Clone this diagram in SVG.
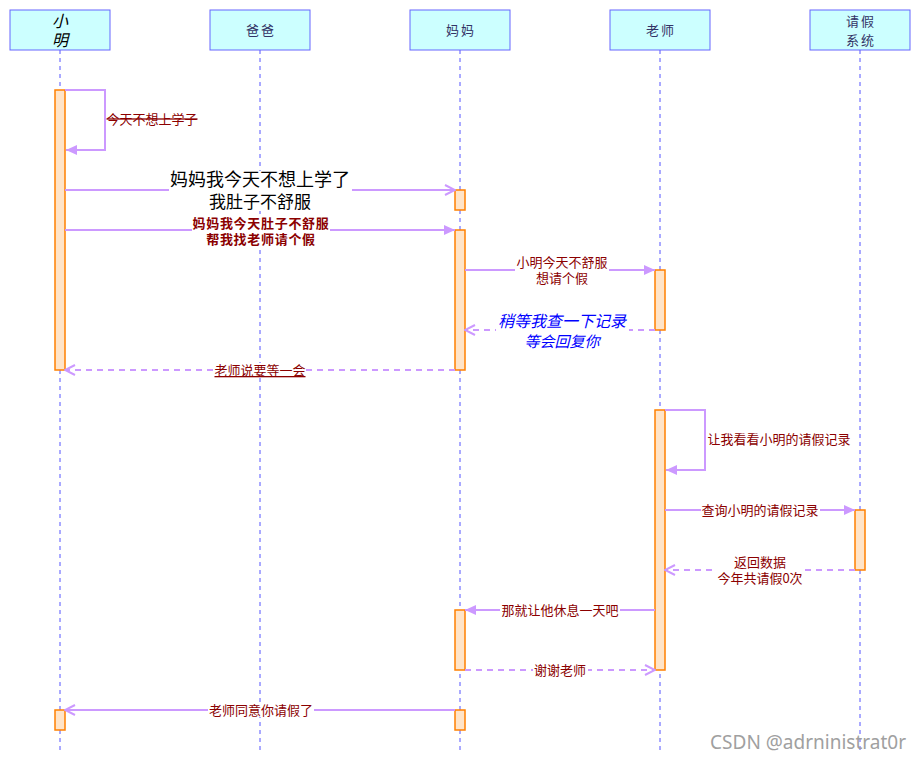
<svg xmlns="http://www.w3.org/2000/svg" width="921" height="761" viewBox="0 0 921 761">
<defs>
<marker id="fill" markerWidth="12" markerHeight="12" refX="11" refY="6" orient="auto" markerUnits="userSpaceOnUse">
<path d="M0,1 L11,6 L0,11 Z" fill="#cc99ff"/>
</marker>
<marker id="open" markerWidth="12" markerHeight="12" refX="11" refY="6" orient="auto" markerUnits="userSpaceOnUse">
<path d="M1,1 L11,6 L1,11" fill="none" stroke="#cc99ff" stroke-width="2"/>
</marker>
</defs>
<style>
text{font-family:"Noto Sans CJK SC","Liberation Sans",sans-serif}
.hdr rect{fill:#ccffff;stroke:#6666ff;stroke-width:1}
.hdr text{fill:#333366;font-size:13px;text-anchor:middle;letter-spacing:2px}
.life{stroke:#5555ff;stroke-width:1;stroke-dasharray:4,4}
.act{fill:#ffe4c8;stroke:#ff8000;stroke-width:1.5}
.msg{stroke:#cc99ff;stroke-width:2;fill:none}
.dash{stroke-dasharray:6,5}
.lbl{fill:#8b0000;font-size:13px;text-anchor:middle}
.bg{fill:#ffffff}
</style>
<rect width="921" height="761" fill="#ffffff"/>
<g id="lifelines">
<line class="life" x1="60" y1="50" x2="60" y2="750"/>
<line class="life" x1="260" y1="50" x2="260" y2="750"/>
<line class="life" x1="460" y1="50" x2="460" y2="750"/>
<line class="life" x1="660" y1="50" x2="660" y2="750"/>
<line class="life" x1="860" y1="50" x2="860" y2="750"/>
</g>
<g id="xiaoming" class="hdr"><rect x="10" y="10" width="100" height="40"/><text x="60" y="27" style="font-size:16px;font-style:italic;fill:#000;letter-spacing:0">小</text><text x="60" y="46" style="font-size:16px;font-style:italic;fill:#000;letter-spacing:0">明</text></g>
<g id="baba" class="hdr"><rect x="210" y="10" width="100" height="40"/><text x="261" y="35">爸爸</text></g>
<g id="mama" class="hdr"><rect x="410" y="10" width="100" height="40"/><text x="461" y="35">妈妈</text></g>
<g id="laoshi" class="hdr"><rect x="610" y="10" width="100" height="40"/><text x="661" y="35">老师</text></g>
<g id="system" class="hdr"><rect x="810" y="10" width="100" height="40"/><text x="861" y="26">请假</text><text x="861" y="45">系统</text></g>
<g id="activations">
<rect class="act" x="55" y="90" width="10" height="280"/>
<rect class="act" x="455" y="190" width="10" height="20"/>
<rect class="act" x="455" y="230" width="10" height="140"/>
<rect class="act" x="655" y="270" width="10" height="60"/>
<rect class="act" x="655" y="410" width="10" height="260"/>
<rect class="act" x="855" y="510" width="10" height="60"/>
<rect class="act" x="455" y="610" width="10" height="60"/>
<rect class="act" x="55" y="710" width="10" height="20"/>
<rect class="act" x="455" y="710" width="10" height="20"/>
</g>
<g id="connectors">
<path class="msg" d="M65,90 H105 V150 H66" marker-end="url(#fill)"/>
<line class="msg" x1="65" y1="190" x2="455" y2="190" marker-end="url(#open)"/>
<line class="msg" x1="65" y1="230" x2="455" y2="230" marker-end="url(#fill)"/>
<line class="msg" x1="465" y1="270" x2="655" y2="270" marker-end="url(#fill)"/>
<line class="msg dash" x1="655" y1="330" x2="465" y2="330" marker-end="url(#open)"/>
<line class="msg dash" x1="455" y1="370" x2="65" y2="370" marker-end="url(#open)"/>
<path class="msg" d="M665,410 H705 V470 H666" marker-end="url(#fill)"/>
<line class="msg" x1="665" y1="510" x2="855" y2="510" marker-end="url(#fill)"/>
<line class="msg dash" x1="855" y1="570" x2="665" y2="570" marker-end="url(#open)"/>
<line class="msg" x1="655" y1="610" x2="465" y2="610" marker-end="url(#fill)"/>
<line class="msg dash" x1="465" y1="670" x2="655" y2="670" marker-end="url(#open)"/>
<line class="msg" x1="455" y1="710" x2="65" y2="710" marker-end="url(#open)"/>
</g>
<g id="labels">
<text class="lbl" x="152" y="124" text-decoration="line-through">今天不想上学子</text>
<rect class="bg" x="169" y="171" width="183" height="40"/>
<text x="260" y="186" style="font-size:18px;text-anchor:middle;fill:#000">妈妈我今天不想上学了</text>
<text x="260" y="208" style="font-size:17px;text-anchor:middle;fill:#000">我肚子不舒服</text>
<rect class="bg" x="192" y="216" width="138" height="30"/>
<text class="lbl" x="261" y="228" style="font-weight:bold;letter-spacing:0.7px">妈妈我今天肚子不舒服</text>
<text class="lbl" x="261" y="244" style="font-weight:bold;letter-spacing:0.7px">帮我找老师请个假</text>
<rect class="bg" x="515" y="258" width="94" height="28"/>
<text class="lbl" x="562" y="267">小明今天不舒服</text>
<text class="lbl" x="562" y="283">想请个假</text>
<rect class="bg" x="496" y="313" width="133" height="36"/>
<text x="562" y="327" style="font-size:16px;font-style:italic;text-anchor:middle;fill:#0000ff">稍等我查一下记录</text>
<text x="562" y="347" style="font-size:15px;font-style:italic;text-anchor:middle;fill:#0000ff">等会回复你</text>
<rect class="bg" x="215" y="363" width="91" height="14"/>
<text class="lbl" x="260" y="375" text-decoration="underline">老师说要等一会</text>
<text class="lbl" x="779" y="444">让我看看小明的请假记录</text>
<rect class="bg" x="701" y="503" width="119" height="14"/>
<text class="lbl" x="760" y="515">查询小明的请假记录</text>
<rect class="bg" x="716" y="556" width="88" height="28"/>
<text class="lbl" x="760" y="567">返回数据</text>
<text class="lbl" x="760" y="583">今年共请假0次</text>
<rect class="bg" x="500" y="603" width="120" height="14"/>
<text class="lbl" x="560" y="615">那就让他休息一天吧</text>
<rect class="bg" x="533" y="663" width="55" height="14"/>
<text class="lbl" x="560" y="675">谢谢老师</text>
<rect class="bg" x="208" y="703" width="106" height="14"/>
<text class="lbl" x="261" y="715">老师同意你请假了</text>
</g>
<text x="906" y="749" style="font-family:'Noto Sans','DejaVu Sans',sans-serif;font-size:19px;fill:#a0a0a0;text-anchor:end">CSDN @adrninistrat0r</text>
</svg>
